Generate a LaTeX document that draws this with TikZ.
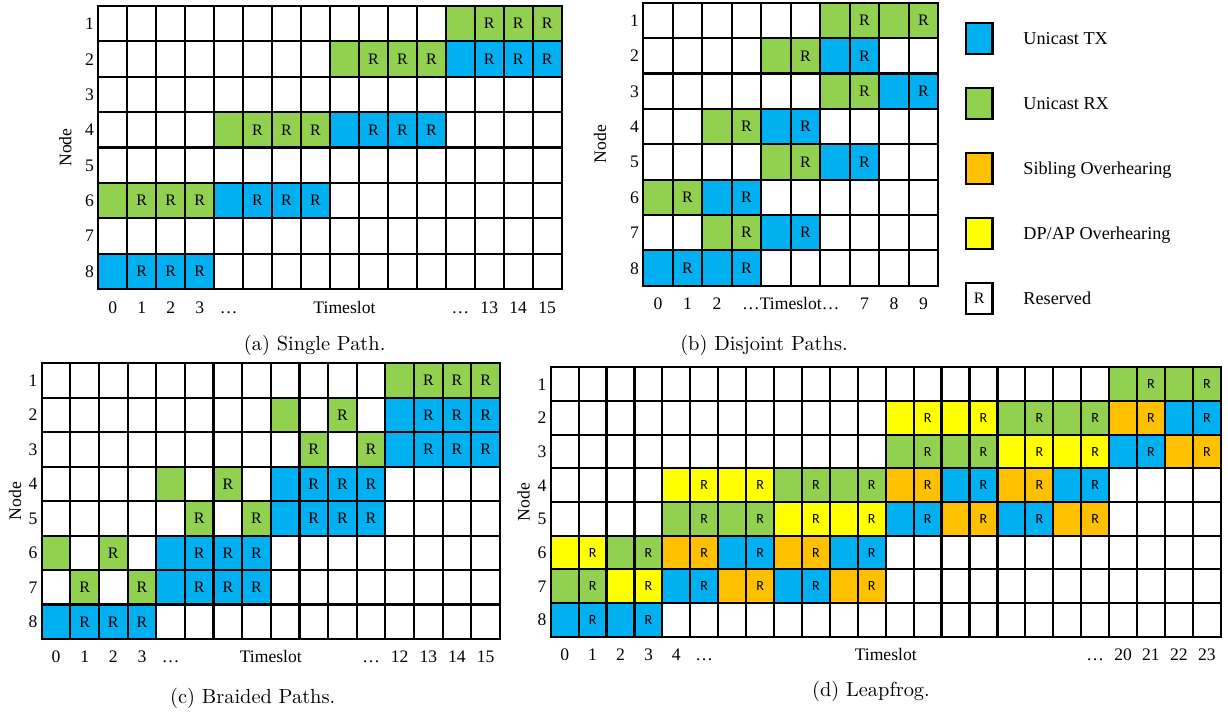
\documentclass[tikz,border=0pt]{standalone}
\usepackage{fontspec}
\newfontfamily\timesfont{Liberation Serif}
\newfontfamily\calibrifont{Carlito}
\usetikzlibrary{positioning}

\definecolor{txblue}{HTML}{00B0F0}
\definecolor{rxgreen}{HTML}{92D050}
\definecolor{siborange}{HTML}{FFC000}
\definecolor{dpyellow}{HTML}{FFFF00}

\tikzset{
    tx/.style={fill=txblue},
    rx/.style={fill=rxgreen},
    sib/.style={fill=siborange},
    dpap/.style={fill=dpyellow},
    gridline/.style={line width=1.1pt, line cap=rect},
    cell/.style={inner sep=0pt, outer sep=0pt, text height=5.3pt, text depth=0pt, font=\timesfont\fontsize{8}{9}\selectfont},
    tslabel/.style={inner sep=0pt, text height=6pt, text depth=0pt, font=\timesfont\fontsize{8.8}{10}\selectfont},
    subcap/.style={inner sep=0pt, text height=7.5pt, text depth=2.5pt, font=\fontsize{10.2}{12}\selectfont},
    keybox/.style={draw, line width=1.1pt, inner sep=0pt, outer sep=0pt, minimum width=13.15pt, minimum height=15.65pt, font=\timesfont\fontsize{8}{9}\selectfont},
    keytext/.style={inner sep=0pt, text height=6pt, text depth=0pt, font=\timesfont\fontsize{9.1}{11}\selectfont}
}

\begin{document}
\begin{tikzpicture}[x=0.5pt, y=-0.5pt]
    \path[fill=white, use as bounding box] (0,0) rectangle (1228,713);

    % (a) Single path
    \begin{scope}[shift={(98.3,6)}, x=14.48pt, y=-17.69pt, cell/.append style={minimum width=14.48pt, minimum height=17.69pt}]
        \foreach \rw/\cl/\kind/\lb in {1/12/rx/{},1/13/rx/R,1/14/rx/R,1/15/rx/R,
            2/8/rx/{},2/9/rx/R,2/10/rx/R,2/11/rx/R,2/12/tx/{},2/13/tx/R,2/14/tx/R,2/15/tx/R,
            4/4/rx/{},4/5/rx/R,4/6/rx/R,4/7/rx/R,4/8/tx/{},4/9/tx/R,4/10/tx/R,4/11/tx/R,
            6/0/rx/{},6/1/rx/R,6/2/rx/R,6/3/rx/R,6/4/tx/{},6/5/tx/R,6/6/tx/R,6/7/tx/R,
            8/0/tx/{},8/1/tx/R,8/2/tx/R,8/3/tx/R}
            \node[cell, \kind] (a-\rw-\cl) at (\cl+.5,\rw-.5) {\lb};
        \foreach \i in {0,...,16} \draw[gridline] (\i,0) -- (\i,8);
        \foreach \j in {0,...,8} \draw[gridline] (0,\j) -- (16,\j);
        \foreach \rw in {1,...,8} \node[tslabel, anchor=east] (a-row-\rw) at ([xshift=-2pt]0,\rw-.5) {\rw};
        \foreach \x/\lb [count=\k] in {.5/0,1.5/1,2.5/2,3.5/3,4.5/…,8.5/Timeslot,12.5/…,13.5/13,14.5/14,15.5/15}
            \node[tslabel] (a-col-\k) at ([yshift=-9pt]\x,8) {\lb};
        \node[tslabel, rotate=90] (a-axis) at ([xshift=-16.5pt]0,4) {Node};
    \end{scope}
    \node[subcap] (cap-a) at (314.7,345) {(a) Single Path.};

    % (b) Disjoint paths
    \begin{scope}[shift={(643.3,2.7)}, x=14.75pt, y=-17.69pt, cell/.append style={minimum width=14.75pt, minimum height=17.69pt}]
        \foreach \rw/\cl/\kind [evaluate=\cl as \cn using int(\cl+1)] in {1/6/rx,1/8/rx,2/4/rx,2/6/tx,3/6/rx,3/8/tx,
            4/2/rx,4/4/tx,5/4/rx,5/6/tx,6/0/rx,6/2/tx,7/2/rx,7/4/tx,8/0/tx,8/2/tx} {
            \node[cell, \kind] (b-\rw-\cl) at (\cl+.5,\rw-.5) {};
            \node[cell, \kind] (b-\rw-\cn) at (\cl+1.5,\rw-.5) {R};
        }
        \foreach \i in {0,...,10} \draw[gridline] (\i,0) -- (\i,8);
        \foreach \j in {0,...,8} \draw[gridline] (0,\j) -- (10,\j);
        \foreach \rw in {1,...,8} \node[tslabel, anchor=east] (b-row-\rw) at ([xshift=-2pt]0,\rw-.5) {\rw};
        \foreach \x/\lb [count=\k] in {.5/0,1.5/1,2.5/2,5/…Timeslot…,7.5/7,8.5/8,9.5/9}
            \node[tslabel] (b-col-\k) at ([yshift=-9pt]\x,8) {\lb};
        \node[tslabel, rotate=90] (b-axis) at ([xshift=-21.6pt]0,4) {Node};
    \end{scope}
    \node[subcap] (cap-b) at (764,345) {(b) Disjoint Paths.};

    % Legend
    \node[keybox, tx] (key-tx) at (979.3,38.7) {};
    \node[keybox, rx, below=16.85pt of key-tx] (key-rx) {};
    \node[keybox, sib, below=16.85pt of key-rx] (key-sib) {};
    \node[keybox, dpap, below=16.85pt of key-sib] (key-dp) {};
    \node[keybox, below=16.85pt of key-dp] (key-res) {R};
    \node[keytext, right=15.3pt of key-tx] (key-tx-text) {Unicast TX};
    \node[keytext, right=15.3pt of key-rx] (key-rx-text) {Unicast RX};
    \node[keytext, right=15.3pt of key-sib] (key-sib-text) {Sibling Overhearing};
    \node[keytext, right=15.3pt of key-dp] (key-dp-text) {DP/AP Overhearing};
    \node[keytext, right=15.3pt of key-res] (key-res-text) {Reserved};

    % (c) Braided paths
    \begin{scope}[shift={(41.7,363.3)}, x=14.32pt, y=-17.23pt, cell/.append style={minimum width=14.32pt, minimum height=17.23pt}]
        \foreach \rw/\cl/\kind/\lb in {1/12/rx/{},1/13/rx/R,1/14/rx/R,1/15/rx/R,
            2/8/rx/{},2/10/rx/R,2/12/tx/{},2/13/tx/R,2/14/tx/R,2/15/tx/R,
            3/9/rx/R,3/11/rx/R,3/12/tx/{},3/13/tx/R,3/14/tx/R,3/15/tx/R,
            4/4/rx/{},4/6/rx/R,4/8/tx/{},4/9/tx/R,4/10/tx/R,4/11/tx/R,
            5/5/rx/R,5/7/rx/R,5/8/tx/{},5/9/tx/R,5/10/tx/R,5/11/tx/R,
            6/0/rx/{},6/2/rx/R,6/4/tx/{},6/5/tx/R,6/6/tx/R,6/7/tx/R,
            7/1/rx/R,7/3/rx/R,7/4/tx/{},7/5/tx/R,7/6/tx/R,7/7/tx/R,
            8/0/tx/{},8/1/tx/R,8/2/tx/R,8/3/tx/R}
            \node[cell, \kind] (c-\rw-\cl) at (\cl+.5,\rw-.5) {\lb};
        \foreach \i in {0,...,16} \draw[gridline] (\i,0) -- (\i,8);
        \foreach \j in {0,...,8} \draw[gridline] (0,\j) -- (16,\j);
        \foreach \rw in {1,...,8} \node[tslabel, anchor=east] (c-row-\rw) at ([xshift=-2pt]0,\rw-.5) {\rw};
        \foreach \x/\lb [count=\k] in {.5/0,1.5/1,2.5/2,3.5/3,4.5/…,8/Timeslot,11.5/…,12.5/12,13.5/13,14.5/14,15.5/15}
            \node[tslabel] (c-col-\k) at ([yshift=-9pt]\x,8) {\lb};
        \node[tslabel, rotate=90] (c-axis) at ([xshift=-13.3pt]0,4) {Node};
    \end{scope}
    \node[subcap] (cap-c) at (252.7,698.3) {(c) Braided Paths.};

    % (d) Leapfrog
    \begin{scope}[shift={(550.7,367.3)}, x=13.96pt, y=-16.84pt, cell/.append style={minimum width=13.96pt, minimum height=16.84pt, text height=4.5pt, font=\calibrifont\fontsize{7}{8}\selectfont}]
        \foreach \rw/\cl/\kind [evaluate=\cl as \cn using int(\cl+1)] in {1/20/rx,1/22/rx,
            2/12/dpap,2/14/dpap,2/16/rx,2/18/rx,2/20/sib,2/22/tx,
            3/12/rx,3/14/rx,3/16/dpap,3/18/dpap,3/20/tx,3/22/sib,
            4/4/dpap,4/6/dpap,4/8/rx,4/10/rx,4/12/sib,4/14/tx,4/16/sib,4/18/tx,
            5/4/rx,5/6/rx,5/8/dpap,5/10/dpap,5/12/tx,5/14/sib,5/16/tx,5/18/sib,
            6/0/dpap,6/2/rx,6/4/sib,6/6/tx,6/8/sib,6/10/tx,
            7/0/rx,7/2/dpap,7/4/tx,7/6/sib,7/8/tx,7/10/sib,
            8/0/tx,8/2/tx} {
            \node[cell, \kind] (d-\rw-\cl) at (\cl+.5,\rw-.5) {};
            \node[cell, \kind] (d-\rw-\cn) at (\cl+1.5,\rw-.5) {R};
        }
        \foreach \i in {0,...,24} \draw[gridline] (\i,0) -- (\i,8);
        \foreach \j in {0,...,8} \draw[gridline] (0,\j) -- (24,\j);
        \foreach \rw in {1,...,8} \node[tslabel, anchor=east] (d-row-\rw) at ([xshift=-2pt]0,\rw-.5) {\rw};
        \foreach \x/\lb [count=\k] in {.5/0,1.5/1,2.5/2,3.5/3,4.5/4,5.5/…,12/Timeslot,19.5/…,20.5/20,21.5/21,22.5/22,23.5/23}
            \node[tslabel] (d-col-\k) at ([yshift=-9pt]\x,8) {\lb};
        \node[tslabel, rotate=90] (d-axis) at ([xshift=-13.5pt]0,4) {Node};
    \end{scope}
    \node[subcap] (cap-d) at (871,691) {(d) Leapfrog.};
\end{tikzpicture}
\end{document}
